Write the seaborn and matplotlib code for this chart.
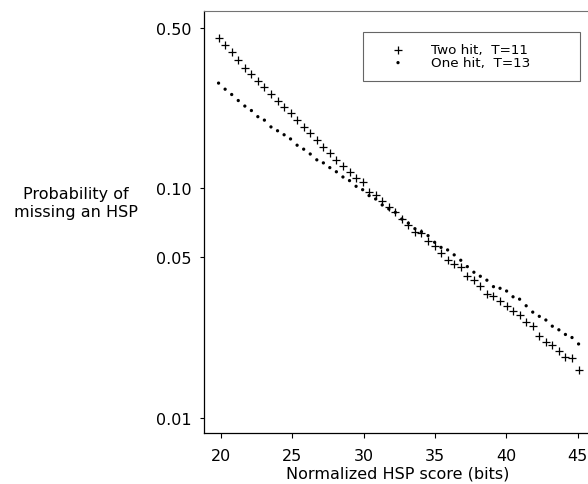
import matplotlib
matplotlib.use("Agg")
import matplotlib.pyplot as plt
import seaborn as sns
import pandas as pd
from matplotlib.ticker import FixedLocator, FixedFormatter, NullLocator

# ---- data ----
score_bits = [19.85, 20.31, 20.77, 21.23, 21.69, 22.15, 22.60, 23.06, 23.52, 23.98,
              24.44, 24.89, 25.35, 25.81, 26.27, 26.73, 27.19, 27.64, 28.10, 28.56,
              29.02, 29.48, 29.94, 30.39, 30.85, 31.31, 31.77, 32.23, 32.68, 33.14,
              33.60, 34.06, 34.52, 34.98, 35.43, 35.89, 36.35, 36.81, 37.27, 37.73,
              38.18, 38.64, 39.10, 39.56, 40.02, 40.47, 40.93, 41.39, 41.85, 42.31,
              42.77, 43.22, 43.68, 44.14, 44.60, 45.06]
two_hit = [0.451, 0.422, 0.391, 0.362, 0.335, 0.313, 0.293, 0.277, 0.258, 0.241,
           0.225, 0.213, 0.199, 0.185, 0.174, 0.163, 0.152, 0.142, 0.133, 0.125,
           0.118, 0.111, 0.106, 0.0968, 0.0937, 0.0878, 0.0832, 0.0787, 0.0733, 0.0694,
           0.0648, 0.0636, 0.0588, 0.0559, 0.0523, 0.0486, 0.0468, 0.0453, 0.0416, 0.0399,
           0.0377, 0.0346, 0.0339, 0.0322, 0.0306, 0.0291, 0.0282, 0.0261, 0.0251, 0.0228,
           0.0215, 0.0208, 0.0196, 0.0184, 0.0182, 0.0161]
one_hit = [0.287, 0.270, 0.256, 0.241, 0.228, 0.218, 0.205, 0.198, 0.185, 0.178,
           0.171, 0.164, 0.154, 0.148, 0.141, 0.133, 0.129, 0.123, 0.118, 0.112,
           0.108, 0.102, 0.0986, 0.0929, 0.0898, 0.0846, 0.0813, 0.0786, 0.0735, 0.0705,
           0.0667, 0.0647, 0.0622, 0.0582, 0.0553, 0.0539, 0.0513, 0.0486, 0.0456, 0.0431,
           0.0414, 0.0398, 0.0373, 0.0367, 0.0357, 0.0337, 0.0329, 0.0308, 0.0289, 0.0277,
           0.0267, 0.0251, 0.0242, 0.0231, 0.0224, 0.0210]
series_labels = ["Two hit,  T=11", "One hit,  T=13"]
x_ticks = [20, 25, 30, 35, 40, 45]
y_ticks = [0.01, 0.05, 0.10, 0.50]
y_tick_labels = ["0.01", "0.05", "0.10", "0.50"]
x_label = "Normalized HSP score (bits)"
y_label = "Probability of\nmissing an HSP"

df_two = pd.DataFrame({"score": score_bits, "prob": two_hit})
df_one = pd.DataFrame({"score": score_bits, "prob": one_hit})

sns.set_style("ticks")
plt.rcParams["font.family"] = ["DejaVu Sans"]
plt.rcParams["text.color"] = "black"
plt.rcParams["axes.labelcolor"] = "black"
plt.rcParams["xtick.color"] = "black"
plt.rcParams["ytick.color"] = "black"

fig = plt.figure(figsize=(5.88, 4.85), dpi=100)
ax = fig.add_axes([0.3474, 0.1052, 0.6526, 0.8701])

sns.scatterplot(data=df_two, x="score", y="prob", ax=ax, marker="+", color="black",
                s=34, linewidth=0.9, label=series_labels[0])
sns.scatterplot(data=df_one, x="score", y="prob", ax=ax, marker="o", color="black",
                s=5.5, edgecolor="none", label=series_labels[1])

ax.set_yscale("log")
ax.set_xlim(18.85, 45.72)
ax.set_ylim(0.008604, 0.5914)
ax.yaxis.set_major_locator(FixedLocator(y_ticks))
ax.yaxis.set_major_formatter(FixedFormatter(y_tick_labels))
ax.yaxis.set_minor_locator(NullLocator())
ax.set_xticks(x_ticks)
ax.set_xticklabels([str(t) for t in x_ticks])

ax.tick_params(axis="y", direction="out", length=3, width=0.8, pad=6, labelsize=11.5, colors="black")
ax.tick_params(axis="x", direction="out", length=3.5, width=0.8, pad=7, labelsize=11.5, colors="black")

ax.set_xlabel(x_label, fontsize=11.5, va="center", color="black")
ax.xaxis.set_label_coords(0.5035, -0.095)
ax.set_ylabel(y_label, fontsize=11.5, rotation=0, ha="center", va="center",
              linespacing=1.25, color="black")
ax.yaxis.set_label_coords(-0.334, 0.547)

for side in ["left", "bottom"]:
    ax.spines[side].set_color("black")
    ax.spines[side].set_linewidth(0.9)
ax.spines["top"].set_color("0.45")
ax.spines["top"].set_linewidth(0.8)
ax.spines["right"].set_visible(False)

leg = ax.legend(loc="upper left", bbox_to_anchor=(0.4136, 0.85, 0.5668, 0.1002),
                mode="expand", borderaxespad=0, fontsize=9.7, frameon=True,
                fancybox=False, framealpha=1, edgecolor="0.4",
                borderpad=0.85, handlelength=3.5, handletextpad=0.69,
                labelspacing=-0.02)
leg.get_frame().set_linewidth(0.8)
for t in leg.get_texts():
    t.set_color("black")

fig.savefig("out.png", dpi=100)
